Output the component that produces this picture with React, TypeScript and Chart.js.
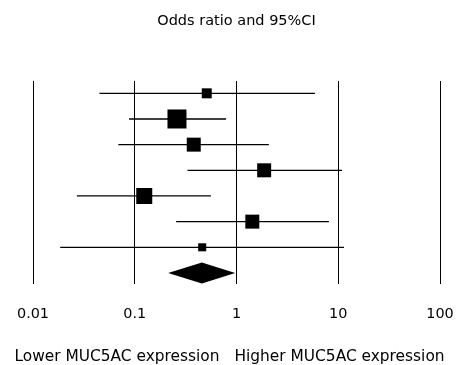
import React, { useEffect, useRef } from 'react';
import { Chart, registerables } from 'chart.js';

Chart.register(...registerables);

// ---- data ----
const studies = ['Study 1', 'Study 2', 'Study 3', 'Study 4', 'Study 5', 'Study 6', 'Study 7'];
const oddsRatios = [0.51, 0.26, 0.38, 1.87, 0.124, 1.43, 0.46];
const ciLower = [0.045, 0.088, 0.069, 0.33, 0.027, 0.255, 0.0185];
const ciUpper = [5.9, 0.79, 2.08, 10.9, 0.56, 8.1, 11.4];
const weights = [7.3, 26.4, 14.3, 14.3, 18.7, 14.3, 4.7];
const pooledOR = 0.457;
const pooledLower = 0.213;
const pooledUpper = 0.97;
const xTicks = [0.01, 0.1, 1, 10, 100];
const titleText = 'Odds ratio and 95%CI';
const leftLabel = 'Lower MUC5AC expression';
const rightLabel = 'Higher MUC5AC expression';

const FONT = '"DejaVu Sans", Verdana, sans-serif';

const bottomLabels = {
  id: 'bottomLabels',
  afterDraw(chart: any) {
    const ctx = chart.ctx;
    const x1 = chart.scales.x.getPixelForValue(1);
    ctx.save();
    ctx.fillStyle = '#000';
    ctx.font = `15.4px ${FONT}`;
    ctx.textBaseline = 'middle';
    ctx.textAlign = 'right';
    ctx.fillText(leftLabel, x1 - 17, 357);
    ctx.textAlign = 'left';
    ctx.fillText(rightLabel, x1 - 2, 357);
    ctx.restore();
  },
};

export default function App() {
  const ref = useRef<HTMLCanvasElement | null>(null);

  useEffect(() => {
    if (!ref.current) return;
    const pooledRow = studies.length + 1;
    const ciSets = studies.map((s, i) => ({
      label: s + ' CI',
      data: [
        { x: ciLower[i], y: i + 1 },
        { x: ciUpper[i], y: i + 1 },
      ],
      showLine: true,
      borderColor: '#000',
      borderWidth: 1.3,
      pointRadius: 0,
      fill: false,
    }));
    const squares = {
      label: 'OR',
      data: oddsRatios.map((v, i) => ({ x: v, y: i + 1 })),
      pointStyle: 'rect',
      pointRadius: weights.map((w) => (3.7 * Math.sqrt(w)) / 1.4142),
      backgroundColor: '#000',
      borderWidth: 0,
      showLine: false,
    };
    const diamond = {
      label: 'Pooled',
      data: [
        { x: pooledLower, y: pooledRow },
        { x: pooledOR, y: pooledRow - 0.41 },
        { x: pooledUpper, y: pooledRow },
        { x: pooledOR, y: pooledRow + 0.41 },
        { x: pooledLower, y: pooledRow },
      ],
      showLine: true,
      borderColor: '#000',
      borderWidth: 0,
      backgroundColor: '#000',
      pointRadius: 0,
      fill: 'shape',
      tension: 0,
    };

    const chart = new Chart(ref.current, {
      type: 'scatter',
      data: { datasets: [...ciSets, squares, diamond] as any },
      options: {
        responsive: false,
        animation: false,
        events: [],
        layout: { padding: { left: 33, right: 16, top: 0, bottom: 41 } },
        plugins: {
          legend: { display: false },
          tooltip: { enabled: false },
          title: {
            display: true,
            text: titleText,
            color: '#000',
            font: { family: FONT, size: 14.5, weight: 'normal' },
            padding: { top: 13, bottom: 50.6 },
          },
        },
        scales: {
          x: {
            type: 'logarithmic',
            min: 0.01,
            max: 100,
            afterBuildTicks: (s: any) => {
              s.ticks = xTicks.map((v) => ({ value: v }));
            },
            afterFit: (s: any) => {
              s.paddingLeft = 0;
              s.paddingRight = 0;
              s.height = 40;
            },
            ticks: {
              callback: (v: any) => String(v),
              padding: 22,
              color: '#000',
              font: { family: FONT, size: 14.4 },
              maxRotation: 0,
              autoSkip: false,
            },
            grid: { color: '#000', lineWidth: 1, drawTicks: false },
            border: { display: false },
          },
          y: {
            type: 'linear',
            min: 0.52,
            max: 8.43,
            reverse: true,
            display: false,
          },
        },
      } as any,
      plugins: [bottomLabels],
    });
    return () => chart.destroy();
  }, []);

  return (
    <div style={{ position: 'fixed', left: 0, top: 0, width: 456, height: 365, background: '#fff' }}>
      <canvas ref={ref} width={456} height={365} style={{ display: 'block' }} />
    </div>
  );
}
